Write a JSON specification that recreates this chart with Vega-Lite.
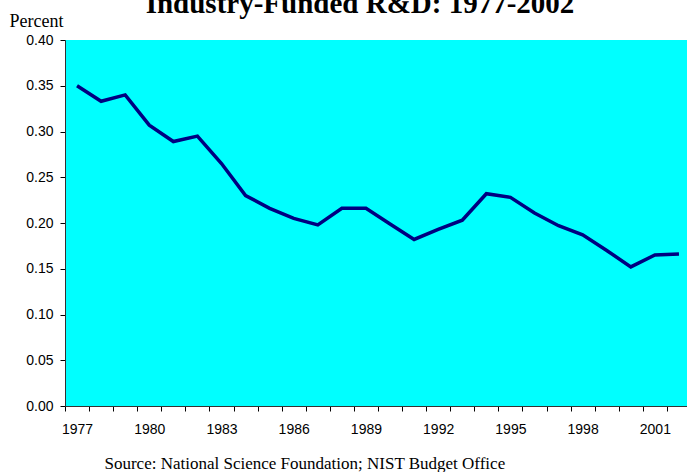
{
  "$schema": "https://vega.github.io/schema/vega-lite/v6.json",
  "autosize": "none",
  "padding": {"left": 65, "top": 40, "right": 0, "bottom": 66},
  "width": 626,
  "height": 366,
  "background": "white",
  "title": {
    "text": "Industry-Funded R&D: 1977-2002",
    "font": "Liberation Serif",
    "fontSize": 29,
    "fontWeight": "bold",
    "color": "black",
    "anchor": "middle",
    "baseline": "alphabetic",
    "offset": 0,
    "dx": -18,
    "dy": 30
  },
  "config": {
    "view": {"fill": "#00FFFF", "stroke": null}
  },
  "data": {
    "values": [
      {"year": 1977, "pct": 0.350},
      {"year": 1978, "pct": 0.333},
      {"year": 1979, "pct": 0.340},
      {"year": 1980, "pct": 0.307},
      {"year": 1981, "pct": 0.289},
      {"year": 1982, "pct": 0.295},
      {"year": 1983, "pct": 0.265},
      {"year": 1984, "pct": 0.230},
      {"year": 1985, "pct": 0.216},
      {"year": 1986, "pct": 0.205},
      {"year": 1987, "pct": 0.198},
      {"year": 1988, "pct": 0.216},
      {"year": 1989, "pct": 0.216},
      {"year": 1990, "pct": 0.199},
      {"year": 1991, "pct": 0.182},
      {"year": 1992, "pct": 0.193},
      {"year": 1993, "pct": 0.203},
      {"year": 1994, "pct": 0.232},
      {"year": 1995, "pct": 0.228},
      {"year": 1996, "pct": 0.211},
      {"year": 1997, "pct": 0.197},
      {"year": 1998, "pct": 0.187},
      {"year": 1999, "pct": 0.170},
      {"year": 2000, "pct": 0.152},
      {"year": 2001, "pct": 0.165},
      {"year": 2002, "pct": 0.166}
    ]
  },
  "mark": {"type": "line", "color": "#000080", "strokeWidth": 3.5, "strokeJoin": "miter"},
  "encoding": {
    "x": {
      "field": "year",
      "type": "quantitative",
      "scale": {"domain": [1976.5, 2002.5], "nice": false, "zero": false},
      "axis": {
        "values": [1976.5, 1977.5, 1978.5, 1979.5, 1980.5, 1981.5, 1982.5, 1983.5, 1984.5, 1985.5, 1986.5, 1987.5, 1988.5, 1989.5, 1990.5, 1991.5, 1992.5, 1993.5, 1994.5, 1995.5, 1996.5, 1997.5, 1998.5, 1999.5, 2000.5, 2001.5, 2002.5],
        "labelExpr": "(datum.value - 1976.5) % 3 == 0 ? format(datum.value + 0.5, 'd') : ''",
        "labelOffset": 12,
        "labelFlush": false,
        "labelOverlap": false,
        "labelBound": false,
        "labelFont": "Liberation Sans",
        "labelFontSize": 14,
        "labelColor": "black",
        "labelPadding": 11,
        "tickSize": 5,
        "tickColor": "black",
        "domainColor": "#333333",
        "grid": false,
        "title": "Source: National Science Foundation; NIST Budget Office",
        "titleFont": "Liberation Serif",
        "titleFontSize": 17,
        "titleFontWeight": "normal",
        "titleColor": "black",
        "titleAlign": "left",
        "titleBaseline": "alphabetic",
        "titleX": 39,
        "titleY": 62
      }
    },
    "y": {
      "field": "pct",
      "type": "quantitative",
      "scale": {"domain": [0, 0.4], "nice": false},
      "axis": {
        "values": [0, 0.05, 0.1, 0.15, 0.2, 0.25, 0.3, 0.35, 0.4],
        "format": ".2f",
        "labelFont": "Liberation Sans",
        "labelFontSize": 14,
        "labelColor": "black",
        "labelPadding": 7,
        "tickSize": 5,
        "tickColor": "black",
        "domainColor": "#333333",
        "grid": false,
        "title": "Percent",
        "titleFont": "Liberation Serif",
        "titleFontSize": 18,
        "titleFontWeight": "normal",
        "titleColor": "black",
        "titleAngle": 0,
        "titleAlign": "left",
        "titleBaseline": "alphabetic",
        "titleX": -56,
        "titleY": -14
      }
    }
  }
}
